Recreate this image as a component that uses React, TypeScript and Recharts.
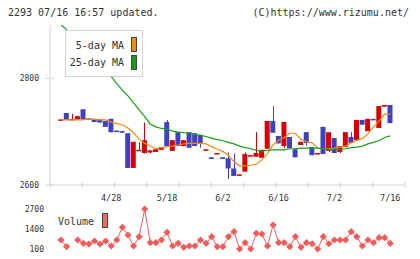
import { ComposedChart, Bar, Line, XAxis, YAxis, Legend } from "recharts";

const MONO = '"DejaVu Sans Mono", monospace';
const RED = "#d40000";
const BLUE = "#4040c0";
const ORANGE = "#f08c14";
const GREEN = "#14a014";
const VOL_COLOR = "#f25c5c";
const AXIS = "#d4d4d4";
const TEXT = "#333";

// daily candles, 0 = oldest
const OPEN = [
  2722, 2735, 2722, 2723, 2742, 2725, 2724, 2723, 2720, 2724,
  2702, 2701, 2697, 2632, 2664, 2660, 2661, 2662, 2666, 2718,
  2664, 2699, 2673, 2699, 2697, 2694, 2666, 2652, 2659, 2652,
  2650, 2631, 2619, 2625, 2655, 2653, 2651, 2668, 2720, 2692,
  2673, 2690, 2667, 2675, 2699, 2671, 2659, 2709, 2664, 2688,
  2662, 2671, 2690, 2684, 2722, 2701, 2724, 2707, 2747, 2750,
];
const CLOSE = [
  2723, 2722, 2724, 2729, 2723, 2724, 2718, 2717, 2709, 2699,
  2701, 2698, 2632, 2681, 2666, 2684, 2665, 2667, 2671, 2673,
  2684, 2673, 2684, 2670, 2673, 2678, 2667, 2649, 2660, 2649,
  2631, 2617, 2620, 2658, 2656, 2660, 2666, 2720, 2698, 2678,
  2718, 2669, 2652, 2681, 2679, 2656, 2660, 2658, 2699, 2660,
  2673, 2699, 2679, 2722, 2713, 2724, 2723, 2748, 2750, 2716,
];
const HIGH = [
  2723, 2735, 2733, 2729, 2742, 2725, 2724, 2723, 2720, 2724,
  2702, 2701, 2697, 2681, 2680, 2717, 2665, 2667, 2671, 2722,
  2684, 2699, 2684, 2699, 2697, 2694, 2667, 2652, 2660, 2652,
  2661, 2659, 2620, 2661, 2656, 2699, 2666, 2720, 2748, 2692,
  2718, 2690, 2667, 2681, 2699, 2671, 2660, 2709, 2699, 2688,
  2673, 2699, 2699, 2722, 2722, 2724, 2724, 2748, 2750, 2750,
];
const LOW = [
  2722, 2722, 2722, 2723, 2723, 2724, 2718, 2717, 2709, 2699,
  2701, 2698, 2632, 2632, 2664, 2659, 2659, 2662, 2666, 2673,
  2664, 2673, 2673, 2670, 2673, 2670, 2666, 2649, 2659, 2649,
  2611, 2617, 2619, 2625, 2655, 2653, 2651, 2668, 2698, 2678,
  2669, 2669, 2652, 2675, 2674, 2656, 2659, 2658, 2662, 2660,
  2660, 2671, 2679, 2684, 2713, 2701, 2723, 2707, 2747, 2716,
];
const MA5 = [
  2722, 2722, 2722, 2722, 2722, 2724, 2723, 2722, 2722, 2718,
  2715, 2713, 2707, 2698, 2686, 2678, 2673, 2668, 2670, 2672,
  2673, 2675, 2677, 2678, 2678, 2678, 2677, 2672, 2667, 2663,
  2656, 2644, 2636, 2636, 2637, 2639, 2647, 2659, 2675, 2684,
  2689, 2697, 2697, 2686, 2681, 2679, 2669, 2668, 2668, 2669,
  2671, 2673, 2679, 2684, 2687, 2696, 2709, 2720, 2733, 2733,
];
const MA25 = [
  2901, 2891, 2879, 2869, 2859, 2848, 2836, 2825, 2814, 2803,
  2790, 2778, 2767, 2754, 2741, 2728, 2714, 2709, 2706, 2705,
  2701, 2699, 2698, 2697, 2695, 2693, 2691, 2688, 2685, 2683,
  2680, 2677, 2673, 2670, 2668, 2665, 2664, 2665, 2666, 2666,
  2666, 2668, 2668, 2669, 2669, 2669, 2669, 2668, 2667, 2667,
  2667, 2668, 2670, 2671, 2673, 2677, 2680, 2683, 2689, 2692,
];
const VOLUME = [
  685, 250, null, 685, 470, 425, 620, 425, 620, 295,
  685, 1510, 1010, 295, 900, 2700, 510, 510, 685, 1185,
  295, 470, 210, 295, 295, 685, 470, 900, 250, 250,
  900, 1225, 100, 510, 100, 1120, 1075, 295, 1660, 510,
  510, 250, 900, 210, 510, 440, 100, 900, 440, 685,
  685, 685, 1225, 900, 295, 685, 510, 835, 835, 470,
];

const DATE_LABELS = ["4/28", "5/18", "6/2", "6/16", "7/2", "7/16"];
const DATE_INDEX = [9, 19, 29, 39, 49, 59];
const PRICE_TICKS = [2600, 2800];
const VOL_TICKS = [100, 1400, 2700];

const X_DOMAIN: [number, number] = [-1.97, 61.64];
const GRID_TICKS = Array.from({ length: 12 }, (_, k) =>
  k === 11 ? X_DOMAIN[1] : X_DOMAIN[0] + ((X_DOMAIN[1] - X_DOMAIN[0]) * k) / 11
);

const candles = OPEN.map((o, i) => ({
  i,
  range: [LOW[i], HIGH[i]],
  open: o,
  close: CLOSE[i],
  high: HIGH[i],
  low: LOW[i],
  ma5: MA5[i],
  ma25: MA25[i],
}));
const volRows = VOLUME.map((v, i) => ({ i, vol: v }));

const Candle = (props: any) => {
  const { x, y, width, height, payload } = props;
  if (x == null || y == null || !payload) return <g />;
  const { open, close, high, low } = payload;
  const color = close >= open ? RED : BLUE;
  const top = Math.min(y, y + height);
  const h = Math.abs(height);
  const k = high > low ? h / (high - low) : 0;
  const bodyTop = top + (high - Math.max(open, close)) * k;
  const bodyH = Math.max(Math.abs(open - close) * k, 1.5);
  const cx = Math.round(x + width / 2) + 0.5;
  return (
    <g>
      <line x1={cx} x2={cx} y1={top} y2={top + h} stroke={color} strokeWidth={1} />
      <rect x={x} y={bodyTop} width={width} height={bodyH} fill={color} />
    </g>
  );
};

const XTick = (props: any) => {
  const { x, y, payload } = props;
  const idx = DATE_INDEX.indexOf(payload.value);
  if (idx >= 0) {
    return (
      <text x={x} y={y + 16} textAnchor="middle" fontSize={8.5} fontFamily={MONO} fill={TEXT}>
        {DATE_LABELS[idx]}
      </text>
    );
  }
  return <line x1={x} x2={x} y1={y - 3} y2={y + 3} stroke={AXIS} />;
};

const YTick = (props: any) => {
  const { x, y, payload } = props;
  return (
    <g>
      <line x1={x - 5} x2={x + 4} y1={y} y2={y} stroke={AXIS} />
      <text x={x - 11} y={y + 3} textAnchor="end" fontSize={8} fontFamily={MONO} fill={TEXT}>
        {payload.value}
      </text>
    </g>
  );
};

const VolDot = (props: any) => {
  const { cx, cy } = props;
  if (cx == null || cy == null) return <g />;
  const r = 3.6;
  return (
    <polygon
      points={`${cx},${cy - r} ${cx + r},${cy} ${cx},${cy + r} ${cx - r},${cy}`}
      fill={VOL_COLOR}
    />
  );
};

const Swatch = ({ color, top, left }: { color: string; top: number; left: number }) => (
  <div
    style={{
      position: "absolute",
      left,
      top,
      width: 6,
      height: 15,
      background: color,
      border: "1px solid #444",
      boxSizing: "border-box",
    }}
  />
);

const MaLegend = () => (
  <div
    style={{
      position: "relative",
      width: 78,
      height: 47,
      boxSizing: "border-box",
      border: "1px solid #d4d4d4",
      background: "#fff",
      fontFamily: MONO,
      fontSize: 10,
      color: TEXT,
    }}
  >
    <div style={{ position: "absolute", right: 18, top: 9, lineHeight: "12px" }}>5-day MA</div>
    <Swatch color={ORANGE} top={6} left={65} />
    <div style={{ position: "absolute", right: 18, top: 26, lineHeight: "12px" }}>25-day MA</div>
    <Swatch color={GREEN} top={24} left={65} />
  </div>
);

const VolLegend = () => (
  <div style={{ position: "relative", width: 52, height: 16, fontFamily: MONO, fontSize: 10, color: TEXT }}>
    <div style={{ position: "absolute", left: 0, top: 3, lineHeight: "12px" }}>Volume</div>
    <Swatch color="#ff6464" top={0} left={44} />
  </div>
);

export default function App() {
  return (
    <div style={{ position: "absolute", left: 0, top: 0, width: 420, height: 259, background: "#fff", overflow: "hidden" }}>
      <div style={{ position: "absolute", left: 8, top: 7, fontFamily: MONO, fontSize: 10, lineHeight: "12px", color: TEXT }}>
        2293 07/16 16:57 updated.
      </div>
      <div style={{ position: "absolute", right: 11, top: 7, fontFamily: MONO, fontSize: 10, lineHeight: "12px", color: TEXT }}>
        (C)https://www.rizumu.net/
      </div>

      <div style={{ position: "absolute", left: 0, top: 0 }}>
        <ComposedChart width={420} height={205} data={candles} margin={{ top: 25, right: 15, bottom: 0, left: 0 }}>
          <XAxis
            type="number"
            dataKey="i"
            domain={X_DOMAIN}
            allowDataOverflow
            ticks={[...GRID_TICKS, ...DATE_INDEX]}
            interval={0}
            tickSize={0}
            tickMargin={0}
            tickLine={false}
            tick={<XTick />}
            axisLine={{ stroke: AXIS }}
            height={20}
          />
          <YAxis
            type="number"
            domain={[2600, 2900]}
            allowDataOverflow
            ticks={PRICE_TICKS}
            interval={0}
            width={50}
            tickSize={0}
            tickMargin={0}
            tickLine={false}
            tick={<YTick />}
            axisLine={{ stroke: AXIS }}
          />
          <Bar dataKey="range" barSize={5} shape={<Candle />} isAnimationActive={false} />
          <Line dataKey="ma5" stroke={ORANGE} strokeWidth={1.2} dot={false} isAnimationActive={false} />
          <Line dataKey="ma25" stroke={GREEN} strokeWidth={1.2} dot={false} isAnimationActive={false} />
          <Legend
            content={<MaLegend />}
            layout="vertical"
            align="center"
            verticalAlign="middle"
            wrapperStyle={{ left: 65, top: 30, width: 78, height: 47 }}
          />
        </ComposedChart>
      </div>

      <div style={{ position: "absolute", left: 0, top: 205 }}>
        <ComposedChart width={420} height={54} data={volRows} margin={{ top: 4, right: 15, bottom: 10, left: 0 }}>
          <XAxis type="number" dataKey="i" domain={X_DOMAIN} allowDataOverflow hide />
          <YAxis
            type="number"
            domain={[100, 2700]}
            ticks={VOL_TICKS}
            interval={0}
            width={50}
            axisLine={false}
            tickLine={false}
            tickSize={0}
            tickMargin={6}
            tick={{ fontSize: 8, fill: TEXT, fontFamily: MONO }}
          />
          <Line
            dataKey="vol"
            stroke={VOL_COLOR}
            strokeWidth={1}
            dot={<VolDot />}
            isAnimationActive={false}
          />
          <Legend
            content={<VolLegend />}
            layout="vertical"
            align="center"
            verticalAlign="middle"
            wrapperStyle={{ left: 58, top: 8, width: 52, height: 16 }}
          />
        </ComposedChart>
      </div>
    </div>
  );
}
